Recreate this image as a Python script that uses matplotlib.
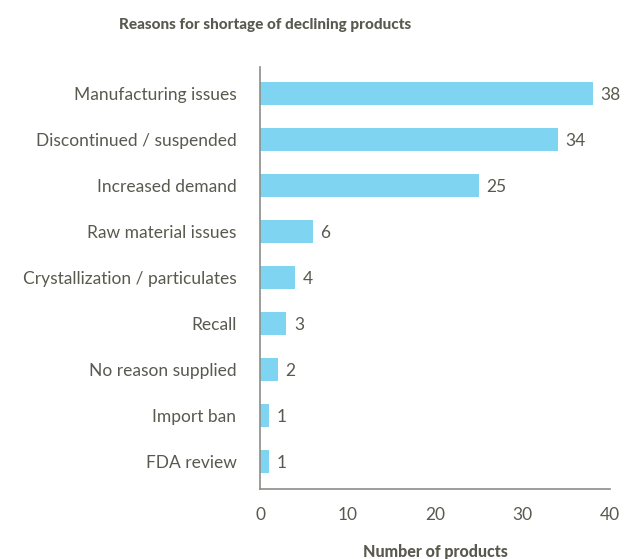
import numpy as np
import matplotlib.pyplot as plt

plt.rcParams['font.family'] = ['Lato', 'DejaVu Sans']

reasons = ['Manufacturing issues', 'Discontinued / suspended', 'Increased demand',
           'Raw material issues', 'Crystallization / particulates', 'Recall',
           'No reason supplied', 'Import ban', 'FDA review']
counts = [38, 34, 25, 6, 4, 3, 2, 1, 1]
xticks = [0, 10, 20, 30, 40]

bar_color = '#7fd4f1'
text_color = '#59594f'
axis_color = '#8c8c88'

fig = plt.figure(figsize=(6.34, 5.59), dpi=100)
ax = fig.add_axes([260 / 634, 1 - 489 / 559, 350 / 634, 422 / 559])

y = np.arange(len(reasons))
ax.barh(y, counts, height=0.5, color=bar_color)
for yi, c in zip(y, counts):
    ax.text(c + 0.9, yi + 0.03, str(c), va='center', ha='left', fontsize=12.5, color=text_color)

ax.set_ylim(len(reasons) - 0.4, -0.57)
ax.set_xlim(0, 40)
ax.set_yticks(y)
ax.set_yticklabels(reasons, fontsize=12.5, color=text_color)
ax.set_xticks(xticks)
ax.set_xticklabels([str(t) for t in xticks], fontsize=12.5, color=text_color)
ax.tick_params(axis='both', length=0)
ax.tick_params(axis='y', pad=17)
ax.tick_params(axis='x', pad=13)

for s in ['top', 'right']:
    ax.spines[s].set_visible(False)
for s in ['left', 'bottom']:
    ax.spines[s].set_color(axis_color)
    ax.spines[s].set_linewidth(1.2)

ax.set_xlabel('Number of products', fontsize=11.5, fontweight=900, color=text_color, labelpad=15)
fig.text(265 / 634, 1 - 25 / 559, 'Reasons for shortage of declining products', ha='center', va='center',
         fontsize=11, fontweight=900, color=text_color)

fig.savefig('out.png', dpi=100)
